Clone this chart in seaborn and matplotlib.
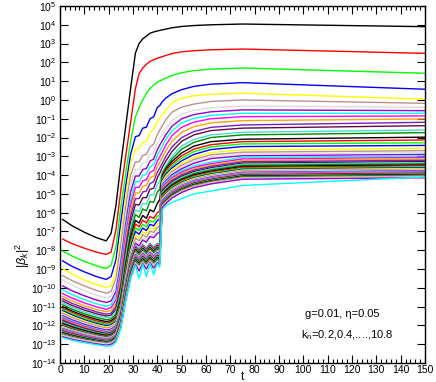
import numpy as np
import pandas as pd
import matplotlib
matplotlib.use("Agg")
import matplotlib.pyplot as plt
import seaborn as sns
from matplotlib.ticker import FixedLocator, MultipleLocator, NullLocator, LogFormatterSciNotation

t_points = [1, 5, 10, 15, 19, 21, 23, 25, 27, 29, 31, 32.5, 34, 35.5, 37, 38.5,
            40, 41, 42, 43.5, 46, 50, 55, 62, 75, 150]

k_values = [0.2, 0.4, 0.6, 0.8, 1.0, 1.2, 1.4, 1.6, 1.8, 2.0, 2.2, 2.4, 2.6, 2.8,
            3.0, 3.2, 3.4, 3.6, 3.8, 4.0, 4.2, 4.4, 4.6, 4.8, 5.0, 5.2, 5.4, 5.6,
            5.8, 6.0, 6.2, 6.4, 6.6, 6.8, 7.0, 7.2, 7.4, 7.6, 7.8, 8.0, 8.2, 8.4,
            8.6, 8.8, 9.0, 9.2, 9.4, 9.6, 9.8, 10.0, 10.2, 10.4, 10.6, 10.8]

# log10 |beta_k|^2 for each k (rows) at t_points (columns)
log_beta = [
    [-6.35, -6.7, -7.04, -7.33, -7.5, -7.1, -5.6, -3.4, -1.4, 0.6, 2.5, 3.0, 3.25, 3.4, 3.55, 3.62, 3.67, 3.7, 3.73, 3.77, 3.84, 3.91, 3.96, 4.0, 4.04, 3.9],
    [-7.4, -7.65, -7.89, -8.1, -8.22, -8.1, -6.9, -4.8, -3.0, -1.2, 0.6, 1.4, 1.7, 1.9, 2.05, 2.14, 2.22, 2.26, 2.3, 2.37, 2.47, 2.56, 2.62, 2.67, 2.71, 2.48],
    [-8.03, -8.31, -8.59, -8.83, -8.97, -8.8, -7.8, -5.7, -3.9, -2.2, -0.9, -0.4, 0.0, 0.35, 0.62, 0.8, 0.94, 1.01, 1.07, 1.16, 1.3, 1.45, 1.56, 1.64, 1.7, 1.42],
    [-8.56, -8.86, -9.15, -9.4, -9.55, -9.4, -8.5, -6.5, -4.6, -2.9, -1.95, -1.9, -1.5, -1.45, -1.0, -0.9, -0.4, -0.3, -0.1, 0.1, 0.33, 0.55, 0.72, 0.84, 0.92, 0.57],
    [-8.97, -9.27, -9.58, -9.83, -9.98, -9.9, -9.1, -7.2, -5.2, -3.4, -2.6, -2.6, -2.25, -2.2, -1.75, -1.55, -1.15, -0.95, -0.8, -0.55, -0.15, 0.1, 0.22, 0.3, 0.36, 0.04],
    [-9.34, -9.62, -9.9, -10.14, -10.28, -10.2, -9.5, -7.7, -5.7, -4.0, -3.3, -3.3, -2.95, -2.9, -2.5, -2.35, -1.85, -1.6, -1.38, -1.05, -0.65, -0.38, -0.22, -0.08, 0.0, -0.18],
    [-9.57, -9.86, -10.15, -10.39, -10.53, -10.45, -9.9, -8.2, -6.2, -4.5, -3.7, -3.7, -3.35, -3.3, -2.9, -2.8, -2.3, -2.05, -1.82, -1.5, -1.1, -0.75, -0.55, -0.42, -0.32, -0.39],
    [-9.89, -10.16, -10.42, -10.65, -10.78, -10.7, -10.2, -8.6, -6.6, -4.9, -4.05, -4.05, -3.7, -3.65, -3.25, -3.15, -2.65, -2.4, -2.18, -1.85, -1.4, -1.0, -0.78, -0.63, -0.53, -0.57],
    [-10.1, -10.36, -10.63, -10.85, -10.98, -10.9, -10.45, -8.9, -6.9, -5.3, -4.35, -4.35, -4.0, -3.95, -3.55, -3.45, -2.95, -2.72, -2.48, -2.1, -1.65, -1.22, -0.98, -0.82, -0.71, -0.71],
    [-10.3, -10.55, -10.8, -11.01, -11.14, -11.05, -10.65, -9.2, -7.2, -5.6, -4.65, -4.65, -4.3, -4.25, -3.85, -3.75, -3.25, -3.02, -2.78, -2.4, -1.9, -1.45, -1.18, -1.0, -0.89, -0.85],
    [-10.45, -10.7, -10.95, -11.16, -11.28, -11.2, -10.85, -9.5, -7.5, -5.9, -4.95, -4.95, -4.6, -4.55, -4.15, -4.05, -3.55, -3.32, -3.08, -2.7, -2.2, -1.72, -1.42, -1.22, -1.1, -1.01],
    [-10.58, -10.83, -11.07, -11.28, -11.4, -11.35, -11.0, -9.8, -7.8, -6.2, -5.25, -5.25, -4.9, -4.85, -4.45, -4.35, -3.85, -3.62, -3.38, -3.0, -2.5, -2.0, -1.68, -1.46, -1.33, -1.19],
    [-10.7, -10.94, -11.18, -11.38, -11.5, -11.45, -11.15, -10.0, -8.1, -6.5, -5.55, -5.6, -5.2, -5.2, -4.75, -4.7, -4.15, -3.9, -3.6, -3.25, -2.75, -2.2, -1.86, -1.63, -1.5, -1.37],
    [-10.8, -11.04, -11.28, -11.48, -11.6, -11.55, -11.3, -10.2, -8.35, -6.8, -5.85, -5.95, -5.5, -5.55, -5.05, -5.05, -4.5, -4.3, -3.85, -3.5, -3.0, -2.45, -2.1, -1.86, -1.72, -1.6],
    [-10.9, -11.14, -11.38, -11.58, -11.7, -11.65, -11.42, -10.4, -8.6, -7.05, -6.1, -6.25, -5.8, -5.9, -5.4, -5.45, -4.9, -4.75, -3.95, -3.6, -3.15, -2.62, -2.26, -2.0, -1.86, -1.74],
    [-11.0, -11.24, -11.48, -11.68, -11.8, -11.75, -11.55, -10.6, -8.85, -7.3, -6.4, -6.55, -6.15, -6.3, -5.85, -5.95, -5.5, -5.3, -4.05, -3.68, -3.28, -2.82, -2.46, -2.22, -2.09, -1.98],
    [-11.07, -11.31, -11.56, -11.76, -11.88, -11.83, -11.62, -10.72, -8.98, -7.5, -6.6, -6.75, -6.4, -6.55, -6.2, -6.3, -6.0, -5.9, -4.12, -3.75, -3.4, -2.97, -2.62, -2.38, -2.22, -2.13],
    [-11.14, -11.38, -11.63, -11.83, -11.95, -11.9, -11.69, -10.82, -9.12, -7.67, -6.8, -6.95, -6.62, -6.75, -6.42, -6.5, -6.2, -6.1, -4.2, -3.85, -3.5, -3.1, -2.75, -2.5, -2.34, -2.28],
    [-11.21, -11.45, -11.7, -11.9, -12.02, -11.97, -11.77, -10.92, -9.26, -7.85, -7.0, -7.15, -6.82, -6.95, -6.62, -6.7, -6.42, -6.32, -4.28, -3.95, -3.62, -3.24, -2.9, -2.64, -2.48, -2.42],
    [-11.28, -11.52, -11.76, -11.96, -12.08, -12.03, -11.84, -11.01, -9.4, -8.03, -7.2, -7.35, -7.02, -7.15, -6.82, -6.9, -6.62, -6.52, -4.35, -4.05, -3.72, -3.36, -3.06, -2.8, -2.66, -2.57],
    [-11.35, -11.59, -11.82, -12.02, -12.14, -12.09, -11.9, -11.09, -9.5, -8.16, -7.35, -7.5, -7.17, -7.3, -6.98, -7.05, -6.78, -6.7, -4.42, -4.15, -3.82, -3.47, -3.17, -2.92, -2.78, -2.7],
    [-11.42, -11.65, -11.89, -12.08, -12.2, -12.15, -11.97, -11.17, -9.61, -8.3, -7.5, -7.65, -7.32, -7.45, -7.13, -7.2, -6.95, -6.88, -4.48, -4.22, -3.9, -3.57, -3.27, -3.02, -2.88, -2.8],
    [-11.48, -11.71, -11.94, -12.13, -12.25, -12.2, -12.02, -11.23, -9.7, -8.41, -7.62, -7.77, -7.45, -7.57, -7.27, -7.33, -7.1, -7.02, -4.52, -4.3, -3.98, -3.66, -3.37, -3.12, -2.97, -2.9],
    [-11.54, -11.77, -12.0, -12.19, -12.3, -12.25, -12.07, -11.29, -9.78, -8.5, -7.72, -7.92, -7.67, -7.87, -7.62, -7.82, -7.62, -7.67, -4.56, -4.36, -4.06, -3.76, -3.51, -3.31, -3.06, -2.98],
    [-11.6, -11.82, -12.04, -12.23, -12.34, -12.29, -12.11, -11.33, -9.82, -8.54, -7.76, -7.96, -7.71, -7.91, -7.66, -7.86, -7.66, -7.71, -4.64, -4.44, -4.14, -3.84, -3.59, -3.39, -3.14, -3.06],
    [-11.66, -11.88, -12.09, -12.27, -12.38, -12.33, -12.15, -11.37, -9.86, -8.57, -7.79, -7.99, -7.74, -7.94, -7.69, -7.89, -7.69, -7.74, -4.72, -4.52, -4.22, -3.92, -3.67, -3.47, -3.22, -3.14],
    [-11.71, -11.92, -12.14, -12.31, -12.42, -12.37, -12.19, -11.41, -9.89, -8.61, -7.83, -8.03, -7.78, -7.98, -7.73, -7.93, -7.73, -7.78, -4.79, -4.59, -4.29, -3.99, -3.74, -3.54, -3.29, -3.21],
    [-11.76, -11.97, -12.17, -12.35, -12.45, -12.4, -12.22, -11.44, -9.93, -8.64, -7.86, -8.06, -7.81, -8.01, -7.76, -7.96, -7.76, -7.81, -4.86, -4.66, -4.36, -4.06, -3.81, -3.61, -3.36, -3.28],
    [-11.81, -12.01, -12.21, -12.38, -12.48, -12.43, -12.25, -11.47, -9.96, -8.68, -7.9, -8.1, -7.85, -8.05, -7.8, -8.0, -7.8, -7.85, -4.92, -4.72, -4.42, -4.12, -3.87, -3.67, -3.42, -3.34],
    [-11.86, -12.06, -12.25, -12.41, -12.51, -12.46, -12.28, -11.5, -9.99, -8.72, -7.94, -8.14, -7.89, -8.09, -7.84, -8.04, -7.84, -7.89, -4.98, -4.78, -4.48, -4.18, -3.93, -3.73, -3.48, -3.4],
    [-11.9, -12.09, -12.28, -12.44, -12.54, -12.49, -12.31, -11.53, -10.03, -8.75, -7.97, -8.17, -7.92, -8.12, -7.87, -8.07, -7.87, -7.92, -5.04, -4.84, -4.54, -4.24, -3.99, -3.79, -3.54, -3.46],
    [-11.94, -12.13, -12.32, -12.48, -12.57, -12.52, -12.34, -11.57, -10.06, -8.79, -8.01, -8.21, -7.96, -8.16, -7.91, -8.11, -7.91, -7.96, -5.09, -4.89, -4.59, -4.29, -4.04, -3.84, -3.59, -3.51],
    [-11.98, -12.17, -12.35, -12.51, -12.6, -12.55, -12.37, -11.6, -10.09, -8.82, -8.04, -8.24, -7.99, -8.19, -7.94, -8.14, -7.94, -7.99, -5.14, -4.94, -4.64, -4.34, -4.09, -3.89, -3.64, -3.56],
    [-12.02, -12.2, -12.38, -12.53, -12.62, -12.57, -12.39, -11.62, -10.12, -8.85, -8.08, -8.28, -8.03, -8.23, -7.98, -8.18, -7.98, -8.03, -5.19, -4.99, -4.69, -4.39, -4.14, -3.94, -3.69, -3.61],
    [-12.06, -12.24, -12.41, -12.56, -12.65, -12.6, -12.42, -11.65, -10.16, -8.89, -8.12, -8.32, -8.07, -8.27, -8.02, -8.22, -8.02, -8.07, -5.23, -5.03, -4.73, -4.43, -4.18, -3.98, -3.73, -3.65],
    [-12.1, -12.27, -12.44, -12.58, -12.67, -12.62, -12.44, -11.68, -10.18, -8.92, -8.15, -8.35, -8.1, -8.3, -8.05, -8.25, -8.05, -8.1, -5.27, -5.07, -4.77, -4.47, -4.22, -4.02, -3.77, -3.69],
    [-12.13, -12.3, -12.47, -12.61, -12.7, -12.65, -12.47, -11.71, -10.22, -8.96, -8.19, -8.39, -8.14, -8.34, -8.09, -8.29, -8.09, -8.14, -5.31, -5.11, -4.81, -4.51, -4.26, -4.06, -3.81, -3.73],
    [-12.16, -12.33, -12.5, -12.64, -12.72, -12.67, -12.5, -11.73, -10.25, -8.99, -8.22, -8.42, -8.17, -8.37, -8.12, -8.32, -8.12, -8.17, -5.35, -5.15, -4.85, -4.55, -4.3, -4.1, -3.85, -3.77],
    [-12.19, -12.36, -12.52, -12.66, -12.74, -12.69, -12.52, -11.75, -10.28, -9.02, -8.26, -8.46, -8.21, -8.41, -8.16, -8.36, -8.16, -8.21, -5.38, -5.18, -4.88, -4.58, -4.33, -4.13, -3.88, -3.8],
    [-12.22, -12.38, -12.54, -12.68, -12.76, -12.72, -12.54, -11.78, -10.31, -9.06, -8.3, -8.5, -8.25, -8.45, -8.2, -8.4, -8.2, -8.25, -5.41, -5.21, -4.91, -4.61, -4.36, -4.16, -3.91, -3.83],
    [-12.25, -12.41, -12.57, -12.7, -12.78, -12.74, -12.56, -11.8, -10.33, -9.09, -8.33, -8.53, -8.28, -8.48, -8.23, -8.43, -8.23, -8.28, -5.44, -5.24, -4.94, -4.64, -4.39, -4.19, -3.94, -3.86],
    [-12.28, -12.44, -12.59, -12.72, -12.8, -12.76, -12.58, -11.83, -10.36, -9.12, -8.37, -8.57, -8.32, -8.52, -8.27, -8.47, -8.27, -8.32, -5.47, -5.27, -4.97, -4.67, -4.42, -4.22, -3.97, -3.89],
    [-12.31, -12.46, -12.62, -12.74, -12.82, -12.78, -12.6, -11.85, -10.39, -9.15, -8.4, -8.6, -8.35, -8.55, -8.3, -8.5, -8.3, -8.35, -5.5, -5.3, -5.0, -4.7, -4.45, -4.25, -4.0, -3.92],
    [-12.34, -12.49, -12.64, -12.77, -12.84, -12.8, -12.62, -11.87, -10.42, -9.19, -8.44, -8.64, -8.39, -8.59, -8.34, -8.54, -8.34, -8.39, -5.52, -5.32, -5.02, -4.72, -4.47, -4.27, -4.02, -3.94],
    [-12.37, -12.52, -12.66, -12.79, -12.86, -12.82, -12.64, -11.9, -10.45, -9.22, -8.48, -8.68, -8.43, -8.63, -8.38, -8.58, -8.38, -8.43, -5.54, -5.34, -5.04, -4.74, -4.49, -4.29, -4.04, -3.96],
    [-12.4, -12.54, -12.69, -12.81, -12.88, -12.84, -12.66, -11.92, -10.48, -9.25, -8.51, -8.71, -8.46, -8.66, -8.41, -8.61, -8.41, -8.46, -5.56, -5.36, -5.06, -4.76, -4.51, -4.31, -4.06, -3.98],
    [-12.42, -12.56, -12.71, -12.83, -12.9, -12.86, -12.68, -11.94, -10.51, -9.29, -8.55, -8.75, -8.5, -8.7, -8.45, -8.65, -8.45, -8.5, -5.58, -5.38, -5.08, -4.78, -4.53, -4.33, -4.08, -4.0],
    [-12.45, -12.59, -12.73, -12.85, -12.92, -12.88, -12.7, -11.97, -10.53, -9.32, -8.58, -8.78, -8.53, -8.73, -8.48, -8.68, -8.48, -8.53, -5.6, -5.4, -5.1, -4.8, -4.55, -4.35, -4.1, -4.02],
    [-12.47, -12.61, -12.75, -12.87, -12.94, -12.9, -12.72, -11.99, -10.56, -9.35, -8.62, -8.82, -8.57, -8.77, -8.52, -8.72, -8.52, -8.57, -5.62, -5.42, -5.12, -4.82, -4.57, -4.37, -4.12, -4.04],
    [-12.5, -12.64, -12.78, -12.89, -12.96, -12.92, -12.75, -12.01, -10.6, -9.39, -8.66, -8.86, -8.61, -8.81, -8.56, -8.76, -8.56, -8.61, -5.64, -5.44, -5.14, -4.84, -4.59, -4.39, -4.14, -4.06],
    [-12.52, -12.66, -12.8, -12.91, -12.98, -12.94, -12.77, -12.04, -10.62, -9.42, -8.69, -8.89, -8.64, -8.84, -8.59, -8.79, -8.59, -8.64, -5.66, -5.46, -5.16, -4.86, -4.61, -4.41, -4.16, -4.08],
    [-12.55, -12.69, -12.82, -12.93, -13.0, -12.96, -12.79, -12.06, -10.65, -9.46, -8.73, -8.93, -8.68, -8.88, -8.63, -8.83, -8.63, -8.68, -5.68, -5.48, -5.18, -4.88, -4.63, -4.43, -4.18, -4.1],
    [-12.6, -12.74, -12.87, -12.98, -13.05, -13.0, -12.84, -12.11, -10.69, -9.49, -8.76, -9.1, -8.71, -9.0, -8.66, -8.95, -8.66, -8.75, -5.72, -5.52, -5.22, -4.92, -4.67, -4.47, -4.22, -4.14],
    [-12.65, -12.79, -12.92, -13.03, -13.1, -13.1, -12.9, -12.15, -10.73, -9.53, -8.8, -9.5, -8.75, -9.4, -8.7, -9.3, -8.7, -8.9, -5.85, -5.65, -5.45, -5.25, -5.0, -4.85, -4.55, -4.1],
]

x_ticks = [0, 10, 20, 30, 40, 50, 60, 70, 80, 90, 100, 110, 120, 130, 140, 150]
y_decades = [-14, -13, -12, -11, -10, -9, -8, -7, -6, -5, -4, -3, -2, -1, 0, 1, 2, 3, 4, 5]

# xmgrace default colour cycle
grace_colors = ["#000000", "#ff0000", "#00ff00", "#0000ff", "#ffff00", "#bc8f8f",
                "#dcdcdc", "#9400d3", "#00ffff", "#ff00ff", "#ffa500", "#7221bc",
                "#670748", "#40e0d0", "#008b00"]

labels = [f"{k:.1f}" for k in k_values]
palette = {lab: grace_colors[i % len(grace_colors)] for i, lab in enumerate(labels)}

records = []
for lab, row in zip(labels, log_beta):
    for t, lv in zip(t_points, row):
        records.append((t, 10.0 ** lv, lab))
df = pd.DataFrame(records, columns=["t", "beta2", "k"])

sns.set_theme(style="ticks")
plt.rcParams["font.family"] = ["Liberation Sans", "DejaVu Sans"]
plt.rcParams["mathtext.fontset"] = "custom"
plt.rcParams["mathtext.rm"] = "Liberation Sans"
plt.rcParams["mathtext.it"] = "Liberation Sans:italic"
plt.rcParams["mathtext.bf"] = "Liberation Sans:bold"
for key in ["text.color", "axes.labelcolor", "xtick.color", "ytick.color", "axes.edgecolor"]:
    plt.rcParams[key] = "black"

fig = plt.figure(figsize=(4.36, 3.82), dpi=100)
ax = fig.add_axes([60 / 436, 1 - 363 / 382, 365 / 436, 357 / 382])

sns.lineplot(data=df, x="t", y="beta2", hue="k", hue_order=labels, palette=palette,
             legend=False, ax=ax, linewidth=1.0, estimator=None, sort=False)

ax.set_yscale("log")
ax.set_xlim(0, 150)
ax.set_ylim(1e-14, 1e5)
ax.set_xticks(x_ticks)
ax.xaxis.set_minor_locator(MultipleLocator(2))
ax.yaxis.set_major_locator(FixedLocator([10.0 ** d for d in y_decades]))
ax.yaxis.set_major_formatter(LogFormatterSciNotation(base=10))
ax.yaxis.set_minor_locator(NullLocator())
ax.tick_params(which="both", direction="in", top=True, right=True, labelsize=7.5, width=0.8)
ax.tick_params(axis="x", pad=1.5)
ax.tick_params(axis="y", pad=2.5)
ax.tick_params(which="major", length=6)
ax.tick_params(which="minor", length=3)
for sp in ax.spines.values():
    sp.set_linewidth(1.0)
    sp.set_color("black")

ax.set_xlabel("t", fontsize=8.5)
ax.xaxis.set_label_coords(0.5, -0.022)
ax.xaxis.label.set_va("top")
ax.set_ylabel(r"$|\beta_k|^2$", fontsize=9)
ax.yaxis.set_label_coords(-0.078, 0.30)

ax.text(0.772, 0.137, "g=0.01, \u03b7=0.05", transform=ax.transAxes,
        ha="center", va="center", fontsize=8)
ax.text(0.788, 0.077, r"k$_\mathregular{n}$=0.2,0.4,....,10.8", transform=ax.transAxes,
        ha="center", va="center", fontsize=8)

fig.savefig("out.png", dpi=100)
